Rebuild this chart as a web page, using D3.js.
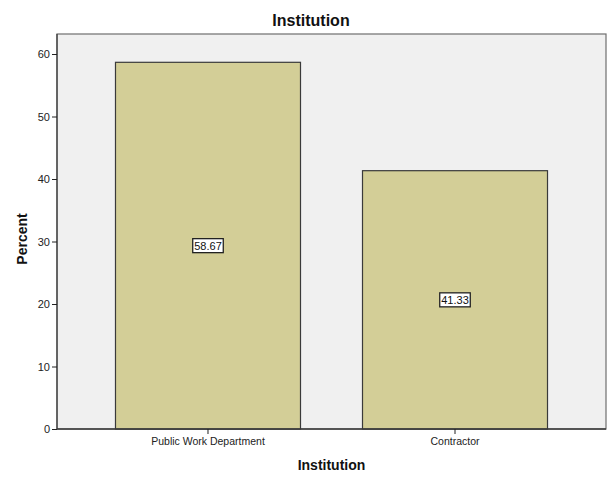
<!DOCTYPE html>
<html><head><meta charset="utf-8">
<script src="https://cdn.jsdelivr.net/npm/d3@7"></script>
<style>body{margin:0;background:#fff}svg{display:block}text{font-family:"Liberation Sans",Arial,sans-serif}</style>
</head><body>
<script>
const categories = ["Public Work Department", "Contractor"];
const percents = [58.67, 41.33];
const yTicks = [0, 10, 20, 30, 40, 50, 60];
const chartTitle = "Institution";
const xTitle = "Institution";
const yTitle = "Percent";

const W = 613, H = 487;
const L = 57, R = 606, T = 34, B = 429;
const svg = d3.select("body").append("svg").attr("width", W).attr("height", H);

const y = d3.scaleLinear().domain([0, 60]).range([B, 54]);
const x = d3.scaleBand().domain(categories).range([L, R]).paddingInner(0.251).paddingOuter(0.2368);

svg.append("rect").attr("x", L).attr("y", T).attr("width", R - L).attr("height", B - T)
  .attr("fill", "#f0f0f0").attr("stroke", "#6e6e6e").attr("stroke-width", 1.2);

svg.selectAll("rect.bar").data(percents).join("rect").attr("class", "bar")
  .attr("x", (d, i) => x(categories[i])).attr("width", x.bandwidth())
  .attr("y", d => y(d)).attr("height", d => B - y(d))
  .attr("fill", "#d3ce97").attr("stroke", "#3a3a3a").attr("stroke-width", 1.2);

// axis lines
svg.append("line").attr("x1", L).attr("x2", R).attr("y1", B).attr("y2", B).attr("stroke", "#3a3a3a").attr("stroke-width", 1.5);
svg.append("line").attr("x1", L).attr("x2", L).attr("y1", T).attr("y2", B).attr("stroke", "#3a3a3a").attr("stroke-width", 1.2);

const yAxis = svg.append("g").attr("transform", `translate(${L},0)`)
  .call(d3.axisLeft(y).tickValues(yTicks).tickSize(5).tickPadding(2));
yAxis.select(".domain").remove();
yAxis.selectAll("line").attr("stroke", "#222");
yAxis.selectAll("text").attr("font-size", 11).attr("fill", "#222").attr("font-family", '"Liberation Sans",Arial,sans-serif');

const xAxis = svg.append("g").attr("transform", `translate(0,${B})`)
  .call(d3.axisBottom(x).tickSize(5).tickPadding(4));
xAxis.select(".domain").remove();
xAxis.selectAll("line").attr("stroke", "#222");
xAxis.selectAll("text").attr("font-size", 10.5).attr("fill", "#222").attr("font-family", '"Liberation Sans",Arial,sans-serif');

// value labels
percents.forEach((d, i) => {
  const cx = x(categories[i]) + x.bandwidth() / 2;
  const cy = (y(d) + B) / 2;
  const g = svg.append("g");
  const t = g.append("text").attr("x", cx).attr("y", cy + 4).attr("text-anchor", "middle")
    .attr("font-size", 11).attr("fill", "#111").text(d.toFixed(2));
  const bb = t.node().getBBox();
  g.insert("rect", "text").attr("x", bb.x - 1.5).attr("y", bb.y - 1).attr("width", bb.width + 3).attr("height", bb.height + 2)
    .attr("fill", "#fff").attr("stroke", "#222").attr("stroke-width", 1.3);
});

svg.append("text").attr("x", 311).attr("y", 26).attr("text-anchor", "middle")
  .attr("font-size", 16).attr("font-weight", "bold").attr("fill", "#111").text(chartTitle);
svg.append("text").attr("x", (L + R) / 2).attr("y", 470).attr("text-anchor", "middle")
  .attr("font-size", 14).attr("font-weight", "bold").attr("fill", "#111").text(xTitle);
svg.append("text").attr("transform", `translate(27,239) rotate(-90)`).attr("text-anchor", "middle")
  .attr("font-size", 14).attr("font-weight", "bold").attr("fill", "#111").text(yTitle);
</script>
</body></html>
